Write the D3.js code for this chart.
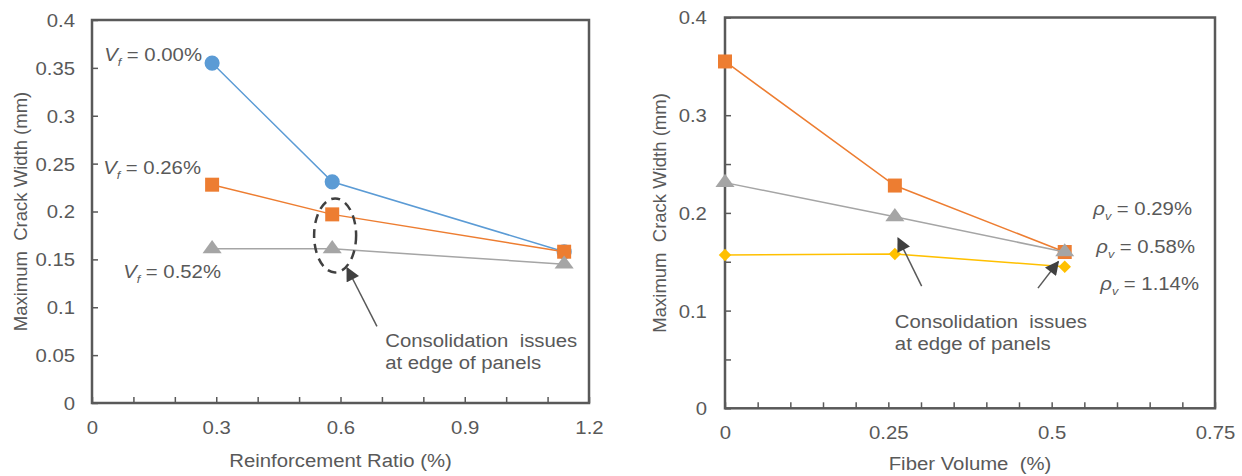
<!DOCTYPE html>
<html>
<head>
<meta charset="utf-8">
<script src="https://cdn.jsdelivr.net/npm/d3@7/dist/d3.min.js"></script>
<style>
  html, body { margin: 0; padding: 0; background: #fff; }
  svg { display: block; font-family: "Liberation Sans", Arial, sans-serif; }
  text { fill: #595959; white-space: pre; }
</style>
</head>
<body>
<svg id="chart" width="1242" height="476"></svg>
<script>
// ---- Left panel: crack width vs. reinforcement ratio ----
const ratioX = [0.29, 0.58, 1.14];
const widthVf000 = [0.355, 0.231, 0.158];
const widthVf026 = [0.228, 0.197, 0.158];
const widthVf052 = [0.161, 0.161, 0.145];
const leftXTicks = [0, 0.3, 0.6, 0.9, 1.2];
const leftYTicks = [0, 0.05, 0.1, 0.15, 0.2, 0.25, 0.3, 0.35, 0.4];

// ---- Right panel: crack width vs. fiber volume ----
const fiberX = [0, 0.26, 0.52];
const widthRho029 = [0.355, 0.228, 0.160];
const widthRho058 = [0.231, 0.196, 0.160];
const widthRho114 = [0.157, 0.158, 0.145];
const rightXTicks = [0, 0.25, 0.5, 0.75];
const rightYTicks = [0, 0.1, 0.2, 0.3, 0.4];

const BLUE = "#5B9BD5", ORANGE = "#ED7D31", GRAY = "#A5A5A5", GOLD = "#FFC000";
const AXIS = "#595959", DARK = "#404040";
const SX = 1.13;       // horizontal text widening
const FS = 18;         // base font size

const svg = d3.select("#chart");
svg.append("rect").attr("width", 1242).attr("height", 476).attr("fill", "#fff");

// arrowhead marker
svg.append("defs").append("marker")
  .attr("id", "arrow").attr("viewBox", "0 0 10 10")
  .attr("refX", 9).attr("refY", 5)
  .attr("markerUnits", "userSpaceOnUse")
  .attr("markerWidth", 15).attr("markerHeight", 14)
  .attr("orient", "auto")
  .append("path").attr("d", "M0,0 L10,5 L0,10 Z").attr("fill", DARK);

function wideText(parent, x, y, str, anchor) {
  return parent.append("text")
    .attr("transform", `translate(${x},${y}) scale(${SX},1)`)
    .attr("text-anchor", anchor || "start")
    .attr("font-size", FS)
    .text(str);
}

function symLabel(parent, x, y, main, sub, rest) {
  const t = parent.append("text")
    .attr("transform", `translate(${x},${y}) scale(${SX},1)`)
    .attr("text-anchor", "end")
    .attr("font-size", FS);
  t.append("tspan").attr("font-style", "italic").text(main);
  t.append("tspan").attr("font-style", "italic").attr("font-size", FS * 0.62).attr("dy", 5).text(sub);
  t.append("tspan").attr("dy", -5).text(rest);
  return t;
}

function panel(opt) {
  const g = svg.append("g");
  const x = d3.scaleLinear().domain(opt.xDomain).range([opt.left, opt.right]);
  const y = d3.scaleLinear().domain([0, 0.4]).range([opt.bottom, opt.top]);

  // y axis: inward ticks
  const yAx = g.append("g").attr("transform", `translate(${opt.left},0)`)
    .call(d3.axisLeft(y).tickValues(opt.yMinor).tickSizeInner(-6).tickSizeOuter(0)
      .tickPadding(opt.yPad)
      .tickFormat(d => opt.yTicks.some(v => Math.abs(v - d) < 1e-9) ? d3.format("")(+d.toFixed(2)) : ""));
  yAx.select(".domain").remove();
  yAx.selectAll("line").attr("stroke", AXIS).attr("stroke-width", 1.5);
  yAx.selectAll("text").attr("font-size", FS).attr("font-family", null)
    .attr("fill", AXIS).attr("transform", `scale(${SX},1)`).attr("dy", "0.36em");

  // x axis: inward ticks
  const xAx = g.append("g").attr("transform", `translate(0,${opt.bottom})`)
    .call(d3.axisBottom(x).tickValues(opt.xMinor).tickSizeInner(-6).tickSizeOuter(0)
      .tickPadding(opt.xPad)
      .tickFormat(d => opt.xTicks.some(v => Math.abs(v - d) < 1e-9) ? d3.format("")(+d.toFixed(2)) : ""));
  xAx.select(".domain").remove();
  xAx.selectAll("line").attr("stroke", AXIS).attr("stroke-width", 1.5);
  xAx.selectAll("text").attr("font-size", FS).attr("font-family", null)
    .attr("fill", AXIS).attr("transform", `scale(${SX},1)`).attr("dy", "0.71em");

  // frame
  g.append("rect")
    .attr("x", opt.left).attr("y", opt.top)
    .attr("width", opt.right - opt.left).attr("height", opt.bottom - opt.top)
    .attr("fill", "none").attr("stroke", AXIS).attr("stroke-width", 2.5);

  // axis titles
  wideText(g, (opt.left + opt.right) / 2, opt.xTitleY, opt.xTitle, "middle");
  g.append("text")
    .attr("transform", `translate(${opt.yTitleX},${(opt.top + opt.bottom) / 2}) rotate(-90)`)
    .attr("text-anchor", "middle").attr("dy", "0.35em")
    .attr("font-size", 18.5)
    .text("Maximum  Crack Width (mm)");

  return { g, x, y };
}

function series(p, xs, ys, color, shape) {
  const pts = xs.map((v, i) => [v, ys[i]]);
  p.g.append("path")
    .attr("d", d3.line().x(d => p.x(d[0])).y(d => p.y(d[1]))(pts))
    .attr("fill", "none").attr("stroke", color).attr("stroke-width", 1.5);
  const sym = {
    circle: d3.symbol(d3.symbolCircle, 180),
    square: d3.symbol(d3.symbolSquare, 196),
    triangle: d3.symbol(d3.symbolTriangle, 110),
    diamond: d3.symbol(d3.symbolSquare, 78)
  }[shape];
  const extra = {
    circle: "", square: "",
    triangle: " scale(1.2,0.95)",
    diamond: " rotate(45)"
  }[shape];
  p.g.selectAll(null).data(pts).enter().append("path")
    .attr("d", sym)
    .attr("transform", d => `translate(${p.x(d[0])},${p.y(d[1])})` + extra)
    .attr("fill", color);
}

// ---------- Left panel ----------
const L = panel({
  left: 92, right: 589, top: 20, bottom: 403,
  xDomain: [0, 1.2], xTicks: leftXTicks, xMinor: d3.range(0, 13).map(i => i / 10),
  yTicks: leftYTicks, yMinor: leftYTicks,
  xPad: 18, yPad: 15,
  xTitle: "Reinforcement Ratio (%)", xTitleY: 467, yTitleX: 21
});
series(L, ratioX, widthVf000, BLUE, "circle");
series(L, ratioX, widthVf026, ORANGE, "square");
series(L, ratioX, widthVf052, GRAY, "triangle");

symLabel(L.g, 202, 61, "V", "f", " = 0.00%");
symLabel(L.g, 201, 174, "V", "f", " = 0.26%");
symLabel(L.g, 221, 278, "V", "f", " = 0.52%");

// dashed outline around the middle points
L.g.append("ellipse")
  .attr("cx", L.x(0.587)).attr("cy", L.y(0.175))
  .attr("rx", 21).attr("ry", 37)
  .attr("fill", "none").attr("stroke", DARK).attr("stroke-width", 2.5)
  .attr("stroke-dasharray", "9,6");
L.g.append("line")
  .attr("x1", L.x(0.688)).attr("y1", L.y(0.080))
  .attr("x2", L.x(0.616)).attr("y2", L.y(0.141))
  .attr("stroke", AXIS).attr("stroke-width", 1.5).attr("marker-end", "url(#arrow)");
wideText(L.g, L.x(0.708), L.y(0.0585), "Consolidation  issues");
wideText(L.g, L.x(0.708), L.y(0.0355), "at edge of panels");

// ---------- Right panel ----------
const R = panel({
  left: 725, right: 1215, top: 17.5, bottom: 408.3,
  xDomain: [0, 0.75], xTicks: rightXTicks, xMinor: d3.range(0, 16).map(i => i / 20),
  yTicks: rightYTicks, yMinor: d3.range(0, 9).map(i => i / 20),
  xPad: 18, yPad: 16,
  xTitle: "Fiber Volume  (%)", xTitleY: 470, yTitleX: 660
});
series(R, fiberX, widthRho029, ORANGE, "square");
series(R, fiberX, widthRho058, GRAY, "triangle");
series(R, fiberX, widthRho114, GOLD, "diamond");

symLabel(R.g, 1192, 215, "ρ", "v", " = 0.29%");
symLabel(R.g, 1195, 253, "ρ", "v", " = 0.58%");
symLabel(R.g, 1199, 290, "ρ", "v", " = 1.14%");

R.g.append("line")
  .attr("x1", R.x(0.301)).attr("y1", R.y(0.125))
  .attr("x2", R.x(0.265)).attr("y2", R.y(0.174))
  .attr("stroke", AXIS).attr("stroke-width", 1.5).attr("marker-end", "url(#arrow)");
R.g.append("line")
  .attr("x1", R.x(0.479)).attr("y1", R.y(0.123))
  .attr("x2", R.x(0.510)).attr("y2", R.y(0.150))
  .attr("stroke", AXIS).attr("stroke-width", 1.5).attr("marker-end", "url(#arrow)");
wideText(R.g, R.x(0.26), R.y(0.082), "Consolidation  issues");
wideText(R.g, R.x(0.26), R.y(0.0595), "at edge of panels");
</script>
</body>
</html>
